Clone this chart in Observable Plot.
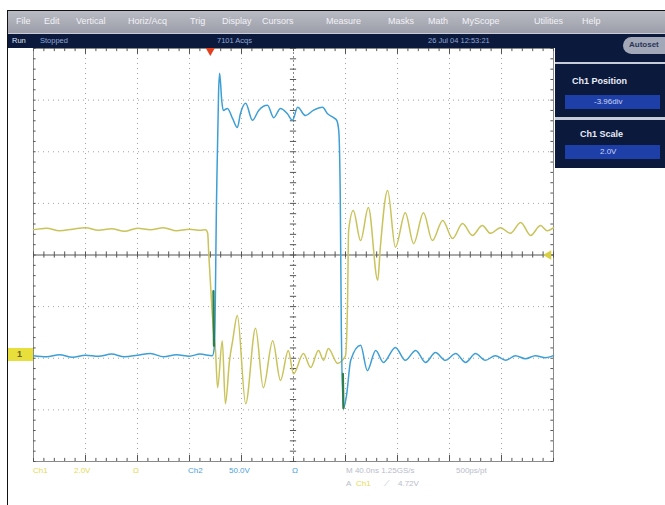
<!DOCTYPE html>
<html><head><meta charset="utf-8">
<script src="https://cdn.jsdelivr.net/npm/d3@7"></script>
<script src="https://cdn.jsdelivr.net/npm/@observablehq/plot@0.6"></script>
<style>
body{margin:0;background:#fff;font-family:"Liberation Sans",Arial,sans-serif;}
#wrap{position:relative;width:665px;height:505px;overflow:hidden;background:#fff;}
#wrap svg{position:absolute;left:0;top:0;}
.abs{position:absolute;white-space:nowrap;line-height:1;}
</style></head><body><div id="wrap"></div>
<script>
// ---- Data (time in divisions, level in divisions) ----
const ch1Time  = [-5.00,-4.75,-4.50,-4.25,-4.00,-3.75,-3.50,-3.25,-3.00,-2.75,-2.50,-2.25,-2.00,-1.80,-1.69,-1.65,-1.63,-1.60,-1.54,-1.50,-1.46,-1.37,-1.31,-1.23,-1.17,-1.08,-0.92,-0.73,-0.58,-0.40,-0.25,-0.10,0.00,0.19,0.33,0.48,0.58,0.67,0.85,0.94,1.00,1.04,1.06,1.15,1.29,1.44,1.62,1.67,1.81,1.96,2.15,2.31,2.50,2.67,2.87,3.06,3.25,3.44,3.63,3.79,3.98,4.17,4.37,4.56,4.75,4.88,5.00];
const ch1Level = [0.49,0.52,0.47,0.50,0.53,0.48,0.51,0.46,0.52,0.49,0.53,0.47,0.50,0.48,0.49,0.42,0.03,-0.49,-1.46,-1.85,-2.57,-1.66,-2.88,-2.04,-1.66,-1.17,-2.88,-1.42,-2.57,-1.66,-2.43,-1.85,-2.30,-1.91,-2.18,-1.85,-2.04,-1.81,-2.10,-2.04,-1.95,-0.88,0.47,0.86,0.28,0.92,-0.49,0.15,1.25,0.15,0.82,0.22,0.82,0.28,0.67,0.32,0.61,0.38,0.57,0.42,0.53,0.42,0.63,0.38,0.57,0.47,0.53];

const ch2Time  = [-5.00,-4.75,-4.50,-4.25,-4.00,-3.75,-3.50,-3.25,-3.00,-2.75,-2.50,-2.25,-2.00,-1.80,-1.56,-1.52,-1.48,-1.44,-1.42,-1.38,-1.35,-1.27,-1.17,-1.08,-1.02,-0.92,-0.79,-0.67,-0.50,-0.38,-0.25,-0.12,-0.02,0.08,0.23,0.38,0.56,0.65,0.77,0.83,0.87,0.90,0.92,0.96,1.02,1.10,1.29,1.42,1.58,1.73,1.96,2.15,2.35,2.54,2.73,2.92,3.12,3.31,3.50,3.69,3.88,4.08,4.27,4.46,4.65,4.85,5.00];
const ch2Level = [-1.95,-1.97,-1.93,-1.98,-1.94,-1.96,-1.92,-1.97,-1.94,-1.91,-1.97,-1.93,-1.96,-1.92,-1.95,-1.76,1.06,3.19,3.52,2.99,2.80,2.84,2.64,2.47,2.74,2.94,2.61,2.80,2.90,2.66,2.84,2.74,2.61,2.86,2.70,2.80,2.86,2.74,2.66,2.61,2.41,1.06,-1.46,-2.97,-2.72,-2.04,-1.75,-2.24,-1.85,-2.08,-1.79,-2.04,-1.85,-2.08,-1.89,-2.04,-1.91,-2.08,-1.91,-2.04,-1.95,-2.04,-1.95,-2.01,-1.95,-1.99,-1.95];

// overlapping (green) segments where both traces coincide
const overlapSeg   = ["a","a","b","b"];
const overlapTime  = [-1.54,-1.53,0.95,0.96];
const overlapLevel = [-0.70,-1.76,-2.30,-2.97];

const trigPosition = -1.6;   // divisions
const trigLevel    = 0.0;    // divisions
const ch1Marker    = -1.95;  // divisions

const menuItems = ["File","Edit","Vertical","Horiz/Acq","Trig","Display","Cursors","Measure","Masks","Math","MyScope","Utilities","Help"];
const menuX     = [16,44,76,128,190,222,262,326,388,428,462,534,582];

const majorX = [-4,-3,-2,-1,1,2,3,4];
const majorY = [-3,-2,-1,1,2,3];
const minorX = d3.range(-5, 5.001, 0.2).map(v => +v.toFixed(2));
const minorY = d3.range(-4, 4.001, 0.2).map(v => +v.toFixed(2));

const ch1 = ch1Time.map((t, i) => ({t, v: ch1Level[i]}));
const ch2 = ch2Time.map((t, i) => ({t, v: ch2Level[i]}));
const overlap = overlapTime.map((t, i) => ({t, v: overlapLevel[i], seg: overlapSeg[i]}));

const YEL = "#c9c35a", BLU = "#3d9fd4", TICK = "#555";

const chart = Plot.plot({
  width: 665, height: 505,
  marginLeft: 33, marginRight: 112, marginTop: 48, marginBottom: 44,
  x: {domain: [-5, 5], axis: null},
  y: {domain: [-4, 4], axis: null},
  style: {background: "transparent", overflow: "visible"},
  marks: [
    Plot.ruleX(majorX, {stroke: "#8c8c8c", strokeDasharray: "1,4", strokeOpacity: 0.8}),
    Plot.ruleY(majorY, {stroke: "#8c8c8c", strokeDasharray: "1,4", strokeOpacity: 0.8}),
    Plot.frame({stroke: "#8a8a8a"}),
    // center crosshair
    Plot.ruleY([0], {stroke: "#555", strokeWidth: 1}),
    Plot.ruleX([0], {stroke: "#888", strokeDasharray: "2,2"}),
    Plot.ruleX(minorX, {y1: -0.06, y2: 0.06, stroke: TICK}),
    Plot.ruleY(minorY, {x1: -0.06, x2: 0.06, stroke: TICK}),
    // frame ticks
    Plot.ruleX(minorX, {y1: -4, y2: -3.94, stroke: TICK}),
    Plot.ruleX(minorX, {y1: 3.94, y2: 4, stroke: TICK}),
    Plot.ruleX(majorX, {y1: -4, y2: -3.88, stroke: TICK}),
    Plot.ruleX(majorX, {y1: 3.88, y2: 4, stroke: TICK}),
    Plot.ruleY(minorY, {x1: -5, x2: -4.95, stroke: TICK}),
    Plot.ruleY(minorY, {x1: 4.95, x2: 5, stroke: TICK}),
    // traces
    Plot.line(ch1, {x: "t", y: "v", stroke: YEL, strokeWidth: 1.5, curve: "monotone-x"}),
    Plot.line(ch2, {x: "t", y: "v", stroke: BLU, strokeWidth: 1.5, curve: "monotone-x"}),
    Plot.line(overlap, {x: "t", y: "v", z: "seg", stroke: "#2f7d4a", strokeWidth: 2.2}),
    // markers
    Plot.dot([trigPosition], {x: d => d, y: 4, symbol: "triangle", rotate: 180, r: 3.5, fill: "#e0401e", dy: 2}),
    Plot.dot([trigLevel], {x: 5, y: d => d, symbol: "triangle", rotate: -90, r: 3.5, fill: "#d8d040", dx: -5})
  ]
});

const wrap = document.getElementById("wrap");
wrap.appendChild(chart);

function box(l, t, w, h, bg, extra = "") {
  const d = document.createElement("div");
  d.className = "abs";
  d.style.cssText += `left:${l}px;top:${t}px;width:${w}px;height:${h}px;background:${bg};${extra}`;
  wrap.appendChild(d);
  return d;
}
function txt(s, l, t, color, size = 8, extra = "") {
  const d = document.createElement("div");
  d.className = "abs";
  d.textContent = s;
  d.style.cssText += `left:${l}px;top:${t}px;color:${color};font-size:${size}px;${extra}`;
  wrap.appendChild(d);
  return d;
}

// outer border
box(7, 10, 658, 1, "#111");
box(7, 10, 1, 495, "#111");
// menu bar
box(8, 11, 657, 22, "linear-gradient(#b9bbc4,#9c9ea9)");
menuItems.forEach((m, i) => txt(m, menuX[i], 17, "#f2f2f6", 9));
// status bar
box(8, 33, 657, 15, "#0b1a3c");
box(8, 33, 657, 1, "#c9ccd6");
txt("Run", 12, 37, "#dfe6f5", 7.5);
txt("Stopped", 40, 37, "#8fa5d6", 7.5);
txt("7101 Acqs", 217, 37, "#8fa5d6", 7.5);
txt("26 Jul 04 12:53:21", 428, 37, "#8fa5d6", 7.5);
// right panel
box(555, 48, 110, 120, "#0b1a3c");
box(623, 37, 50, 17, "#a3a8b8", "border-radius:9px;");
txt("Autoset", 629, 41, "#2a3656", 8, "font-weight:bold;");
box(555, 62, 110, 2, "#c8ccd8");
txt("Ch1 Position", 572, 77, "#e8ecf6", 9, "font-weight:bold;");
box(565, 95, 95, 14, "#1f3fa8");
txt("-3.96div", 594, 98, "#c9d4f6", 8);
box(555, 117, 110, 3, "#c8ccd8");
txt("Ch1 Scale", 580, 130, "#e8ecf6", 9, "font-weight:bold;");
box(565, 145, 95, 14, "#1f3fa8");
txt("2.0V", 600, 148, "#c9d4f6", 8);

// Ch1 ground marker, placed through the y scale
const yS = chart.scale("y");
const my = yS.apply(ch1Marker);
box(8, my - 7, 25, 13, "#e8de3c");
txt("1", 17, my - 5, "#6a6420", 9, "font-weight:bold;");

// bottom readouts
const r1 = 467, r2 = 480;
txt("Ch1", 33, r1, "#e3da56", 8);
txt("2.0V", 74, r1, "#e3da56", 8);
txt("Ω", 133, r1, "#e3da56", 8);
txt("Ch2", 188, r1, "#4aa2e0", 8);
txt("50.0V", 229, r1, "#4aa2e0", 8);
txt("Ω", 292, r1, "#4aa2e0", 8);
txt("M 40.0ns 1.25GS/s", 346, r1, "#b8bccb", 8);
txt("500ps/pt", 456, r1, "#b8bccb", 8);
txt("A", 346, r2, "#b8bccb", 8);
txt("Ch1", 356, r2, "#e3da56", 8);
txt("⟋", 384, r2, "#b8bccb", 8);
txt("4.72V", 398, r2, "#b8bccb", 8);
</script>
</body></html>
